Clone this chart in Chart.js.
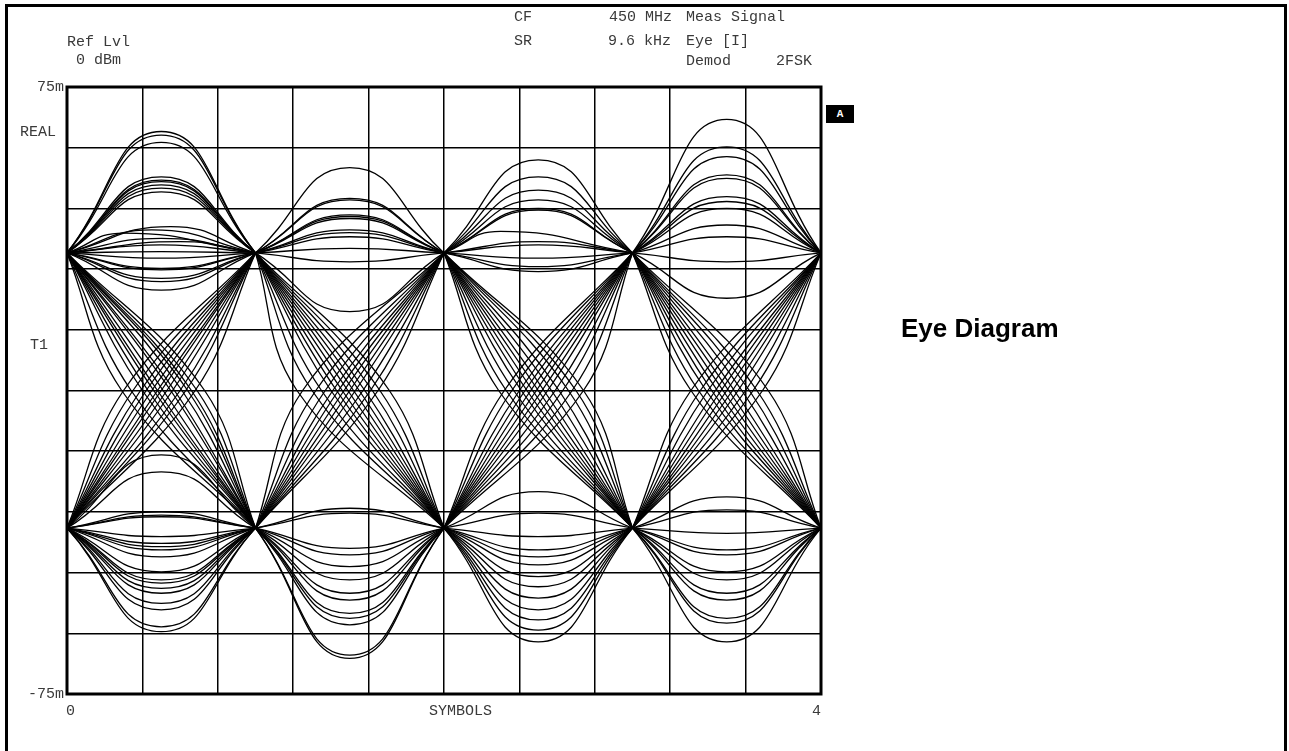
<!DOCTYPE html>
<html lang="en">
<head>
  <meta charset="UTF-8">
  <title>Eye Diagram</title>
  <script src="https://cdn.jsdelivr.net/npm/chart.js"></script>
  <style>
    body { margin: 0; background: #fff; }
    #page { position: relative; width: 1289px; height: 751px; overflow: hidden; background: #fff; }
    #frame { position: absolute; left: 5px; top: 4px; width: 1276px; height: 800px; border: 3px solid #000; }
    #eye { position: absolute; left: 0; top: 0; }
    .lbl {
      position: absolute;
      font-family: "Liberation Mono", "Courier New", monospace;
      font-size: 15px;
      line-height: 16px;
      color: #3a3a3a;
      white-space: pre;
    }
    .marker {
      position: absolute; left: 826px; top: 105px; width: 28px; height: 18px;
      background: #000; color: #fff; text-align: center;
      font: bold 11px "Liberation Mono", monospace; line-height: 18px;
    }
    #title {
      position: absolute; left: 901px; top: 315px;
      font: bold 26px "Liberation Sans", Arial, sans-serif; line-height: 26px; color: #000;
    }
  </style>
</head>
<body>
<div id="page">
  <div id="frame"></div>
  <canvas id="eye" width="1289" height="751"></canvas>

  <div class="lbl" style="left:67px;top:35px">Ref Lvl</div>
  <div class="lbl" style="left:76px;top:53px">0 dBm</div>
  <div class="lbl" style="left:20px;top:125px">REAL</div>
  <div class="lbl" style="left:30px;top:338px">T1</div>

  <div class="lbl" style="left:514px;top:10px">CF</div>
  <div class="lbl" style="left:609px;top:10px">450 MHz</div>
  <div class="lbl" style="left:686px;top:10px">Meas Signal</div>
  <div class="lbl" style="left:514px;top:34px">SR</div>
  <div class="lbl" style="left:608px;top:34px">9.6 kHz</div>
  <div class="lbl" style="left:686px;top:34px">Eye [I]</div>
  <div class="lbl" style="left:686px;top:54px">Demod</div>
  <div class="lbl" style="left:776px;top:54px">2FSK</div>

  <div class="lbl" style="left:66px;top:704px">0</div>
  <div class="lbl" style="left:429px;top:704px">SYMBOLS</div>
  <div class="lbl" style="left:812px;top:704px">4</div>
  <div class="marker">A</div>
  <div id="title">Eye Diagram</div>
</div>

<script>
  // I channel, 2FSK, 4 symbols per sweep, levels in m (±34m)
  const SYMBOLS = 4;
  const LEVEL_HI = 34;
  const LEVEL_LO = -34;

  // curves that stay on the upper level: peak value per symbol interval ([pos, value] when off-centre)
  const highHold = [
    [64.0, 63.1, 61.3, 52.8, 52.0, 51.6, 50.8, 50.0, 49.1, [0.55, 40.5], [0.45, 39.7], [0.3, 38.9],
     37.6, [0.6, 36.8], 36.0, 34.3, 32.7, 30.2, 29.8, 27.7, 26.9, 24.8],
    [55.1, 47.5, 47.1, 43.4, 43.0, 42.5, 39.7, 39.0, 38.0, 35.1, 31.8, 19.5],
    [57.0, 52.8, 49.5, 47.1, 45.0, 44.6, [0.3, 39.3], 36.8, 36.0, 32.7, 30.6, 29.4],
    [67.0, 60.2, 57.8, 53.3, 52.4, 47.9, 46.7, 45.0, 40.9, 38.0, 31.8, 22.8]
  ];

  // curves that stay on the lower level
  const lowHold = [
    [-59.6, -58.4, -54.2, -52.6, -50.1, -48.9, -47.6, -46.8, -44.8, -41.1, -39.4, -38.6,
     -37.8, -36.1, -31.2, -30.8, -30.0, -20.1, -15.9],
    [-66.2, -65.4, -57.9, -56.3, -55.1, -51.8, -50.1, -46.8, -43.5, -40.6, -39.0, -30.3, -29.1],
    [-62.1, -59.2, -56.7, -54.2, -51.3, -48.5, -46.0, -43.1, -41.1, -39.4, -36.1, -30.3, -25.0],
    [-62.1, -57.5, -56.3, -51.8, -50.1, -46.8, -44.8, -40.6, -39.4, -35.3, -29.5, -26.3]
  ];

  // zero crossing (fraction of the symbol) of upper -> lower transitions
  const fallCross = [
    [0.29, 0.34, 0.40, 0.43, 0.46, 0.48, 0.51, 0.55, 0.57, 0.61, 0.64, 0.66, 0.69, 0.73],
    [0.22, 0.30, 0.35, 0.40, 0.43, 0.46, 0.49, 0.52, 0.55, 0.58, 0.62, 0.66, 0.71],
    [0.29, 0.33, 0.37, 0.41, 0.44, 0.47, 0.50, 0.53, 0.57, 0.61, 0.66, 0.70, 0.74],
    [0.31, 0.35, 0.39, 0.42, 0.45, 0.48, 0.51, 0.54, 0.58, 0.62, 0.66, 0.72]
  ];

  // zero crossing of lower -> upper transitions
  const riseCross = [
    [0.30, 0.35, 0.39, 0.42, 0.45, 0.48, 0.50, 0.53, 0.56, 0.60, 0.63, 0.68],
    [0.25, 0.32, 0.37, 0.41, 0.44, 0.47, 0.50, 0.53, 0.57, 0.61, 0.65],
    [0.32, 0.36, 0.40, 0.43, 0.46, 0.49, 0.52, 0.55, 0.59, 0.63, 0.68, 0.74],
    [0.31, 0.36, 0.40, 0.44, 0.47, 0.50, 0.53, 0.56, 0.60, 0.64, 0.69]
  ];

  const Y_MIN = -75, Y_MAX = 75;

  function trace(points, tension) {
    return {
      data: points,
      borderColor: '#000',
      borderWidth: 1.3,
      pointRadius: 0,
      fill: false,
      tension: tension
    };
  }

  function hold(k, level, p) {
    const pos = Array.isArray(p) ? p[0] : 0.5;
    const v = Array.isArray(p) ? p[1] : p;
    return trace([{ x: k, y: level }, { x: k + pos, y: v }, { x: k + 1, y: level }], 0.5);
  }

  const datasets = [];
  for (let k = 0; k < SYMBOLS; k++) {
    highHold[k].forEach(p => datasets.push(hold(k, LEVEL_HI, p)));
    lowHold[k].forEach(p => datasets.push(hold(k, LEVEL_LO, p)));
    fallCross[k].forEach(c => datasets.push(trace(
      [{ x: k, y: LEVEL_HI }, { x: k + c, y: 0 }, { x: k + 1, y: LEVEL_LO }], 0.4)));
    riseCross[k].forEach(c => datasets.push(trace(
      [{ x: k, y: LEVEL_LO }, { x: k + c, y: 0 }, { x: k + 1, y: LEVEL_HI }], 0.4)));
  }

  // heavy frame round the plot
  const plotFrame = {
    id: 'plotFrame',
    afterDatasetsDraw(chart) {
      const { ctx, chartArea: a } = chart;
      ctx.save();
      ctx.lineWidth = 3;
      ctx.strokeStyle = '#000';
      ctx.strokeRect(a.left, a.top, a.right - a.left, a.bottom - a.top);
      ctx.restore();
    }
  };

  const monoFont = { family: '"Liberation Mono", "Courier New", monospace', size: 15 };

  new Chart(document.getElementById('eye'), {
    type: 'line',
    data: { datasets },
    plugins: [plotFrame],
    options: {
      responsive: false,
      animation: false,
      events: [],
      layout: { padding: { left: 0, top: 87, right: 468, bottom: 27 } },
      plugins: { legend: { display: false }, tooltip: { enabled: false } },
      scales: {
        x: {
          type: 'linear',
          min: 0,
          max: SYMBOLS,
          afterFit: s => { s.height = 30; },
          grid: { color: '#000', lineWidth: 1.5, drawTicks: false },
          border: { display: false },
          ticks: { stepSize: 0.4, display: false, autoSkip: false }
        },
        y: {
          min: Y_MIN,
          max: Y_MAX,
          afterFit: s => { s.width = 67; },
          grid: { color: '#000', lineWidth: 1.5, drawTicks: false },
          border: { display: false },
          ticks: {
            stepSize: 15,
            padding: 3,
            color: '#3a3a3a',
            font: monoFont,
            autoSkip: false,
            callback: v => v === Y_MAX ? '75m' : v === Y_MIN ? '-75m' : ''
          }
        }
      }
    }
  });
</script>
</body>
</html>
